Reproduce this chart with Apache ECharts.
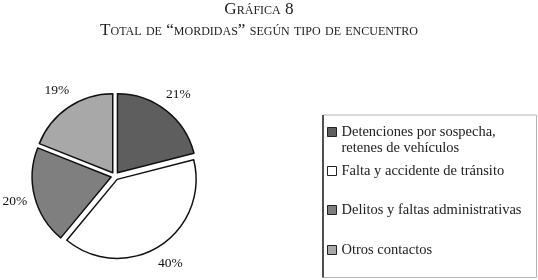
<!DOCTYPE html>
<html>
<head>
<meta charset="utf-8">
<script src="https://cdn.jsdelivr.net/npm/echarts@6/dist/echarts.min.js"></script>
<style>html,body{margin:0;padding:0;background:#fff;}#c{width:538px;height:280px;}</style>
</head>
<body>
<div id="c"></div>
<script>
const titleLines = ['Gráfica 8', 'Total de “mordidas” según tipo de encuentro'];
const categories = ['Detenciones por sospecha,\nretenes de vehículos', 'Falta y accidente de tránsito', 'Delitos y faltas administrativas', 'Otros contactos'];
const values = [21, 40, 20, 19];
const colors = ['#5e5e5e', '#ffffff', '#7f7f7f', '#a8a8a8'];

const SERIF = '"Liberation Serif", "DejaVu Serif", serif';
const chart = echarts.init(document.getElementById('c'), null, {renderer: 'canvas'});

const legendTops = [108, 163, 202, 242];
const legends = categories.map((name, i) => ({
  data: [name],
  orient: 'vertical',
  left: 327,
  top: legendTops[i],
  padding: 0,
  itemWidth: 9,
  itemHeight: 9,
  itemGap: 0,
  selectedMode: false,
  icon: 'rect',
  formatter: i === 0 ? (n => '\n' + n) : (n => n),
  itemStyle: {borderColor: '#222', borderWidth: 1},
  textStyle: {fontFamily: SERIF, fontSize: 14.5, color: '#222', lineHeight: 16}
}));

chart.setOption({
  backgroundColor: '#fff',
  animation: false,
  title: {
    text: titleLines.join('\n'),
    left: 259,
    textAlign: 'center',
    top: -1,
    padding: 0,
    textStyle: {fontFamily: SERIF, fontStyle: 'small-caps', fontWeight: 'normal', fontSize: 17.2, color: '#222', lineHeight: 21}
  },
  legend: legends,
  graphic: [
    {type: 'rect', shape: {x: 323, y: 115, width: 213.5, height: 162.5}, style: {fill: 'none', stroke: '#b5b5b5', lineWidth: 1}, silent: true},
    {type: 'line', shape: {x1: 323, y1: 115, x2: 323, y2: 277.5}, style: {stroke: '#222', lineWidth: 1.5}, silent: true}
  ],
  series: [
    {
      type: 'pie',
      center: [115, 176],
      radius: [0, 79],
      startAngle: 90,
      clockwise: true,
      selectedMode: 'multiple',
      selectedOffset: 4,
      label: {show: false},
      labelLine: {show: false},
      emphasis: {disabled: true},
      itemStyle: {borderColor: '#111', borderWidth: 1.5},
      select: {itemStyle: {borderColor: '#111', borderWidth: 1.5}},
      data: categories.map((name, i) => ({name, value: values[i], selected: true, itemStyle: {color: colors[i]}, select: {itemStyle: {color: colors[i]}}}))
    },
    {
      type: 'pie',
      center: [115, 176],
      radius: [90, 111],
      startAngle: 90,
      clockwise: true,
      silent: true,
      itemStyle: {color: 'rgba(0,0,0,0)'},
      emphasis: {disabled: true},
      labelLine: {show: false},
      label: {show: true, position: 'inside', formatter: '{c}%', fontFamily: SERIF, fontSize: 13.5, color: '#111'},
      data: values.map(v => ({value: v}))
    }
  ]
});
</script>
</body>
</html>
